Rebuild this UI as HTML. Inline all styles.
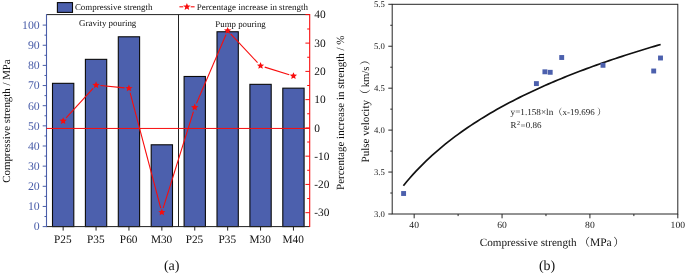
<!DOCTYPE html>
<html lang="en"><head><meta charset="utf-8"><title>Figure</title><style>html,body{margin:0;padding:0;background:#fff}body{width:685px;height:275px;overflow:hidden}</style></head><body>
<svg width="685" height="275" viewBox="0 0 685 275" style="display:block;font-family:'Liberation Serif', 'Noto Serif CJK SC', serif;text-rendering:geometricPrecision">
<rect width="685" height="275" fill="#fff"/>
<rect x="52.50" y="83.33" width="21.3" height="143.27" fill="#4c60ad" stroke="#0a0a0a" stroke-width="1.1"/>
<rect x="85.40" y="59.35" width="21.3" height="167.25" fill="#4c60ad" stroke="#0a0a0a" stroke-width="1.1"/>
<rect x="118.30" y="36.79" width="21.3" height="189.81" fill="#4c60ad" stroke="#0a0a0a" stroke-width="1.1"/>
<rect x="151.20" y="144.79" width="21.3" height="81.81" fill="#4c60ad" stroke="#0a0a0a" stroke-width="1.1"/>
<rect x="184.10" y="76.48" width="21.3" height="150.12" fill="#4c60ad" stroke="#0a0a0a" stroke-width="1.1"/>
<rect x="217.00" y="31.75" width="21.3" height="194.85" fill="#4c60ad" stroke="#0a0a0a" stroke-width="1.1"/>
<rect x="249.90" y="84.34" width="21.3" height="142.26" fill="#4c60ad" stroke="#0a0a0a" stroke-width="1.1"/>
<rect x="282.80" y="88.17" width="21.3" height="138.43" fill="#4c60ad" stroke="#0a0a0a" stroke-width="1.1"/>
<line x1="46.5" y1="14.6" x2="309.7" y2="14.6" stroke="#222" stroke-width="1"/>
<line x1="46.5" y1="226.6" x2="309.7" y2="226.6" stroke="#222" stroke-width="1"/>
<line x1="178.5" y1="14.6" x2="178.5" y2="226.6" stroke="#222" stroke-width="1"/>
<line x1="46.5" y1="14.1" x2="46.5" y2="227.1" stroke="#4a5ea9" stroke-width="1.1"/>
<line x1="309.7" y1="14.1" x2="309.7" y2="227.1" stroke="#f80c0c" stroke-width="1.1"/>
<line x1="46.5" y1="128.45" x2="309.7" y2="128.45" stroke="#f80c0c" stroke-width="1"/>
<line x1="42.7" y1="226.60" x2="46.5" y2="226.60" stroke="#4a5ea9" stroke-width="1"/>
<text x="39.7" y="230.40" font-size="11.8" text-anchor="end" fill="#4a5ea9">0</text>
<line x1="44.5" y1="216.53" x2="46.5" y2="216.53" stroke="#4a5ea9" stroke-width="1"/>
<line x1="42.7" y1="206.45" x2="46.5" y2="206.45" stroke="#4a5ea9" stroke-width="1"/>
<text x="39.7" y="210.25" font-size="11.8" text-anchor="end" fill="#4a5ea9">10</text>
<line x1="44.5" y1="196.38" x2="46.5" y2="196.38" stroke="#4a5ea9" stroke-width="1"/>
<line x1="42.7" y1="186.30" x2="46.5" y2="186.30" stroke="#4a5ea9" stroke-width="1"/>
<text x="39.7" y="190.10" font-size="11.8" text-anchor="end" fill="#4a5ea9">20</text>
<line x1="44.5" y1="176.22" x2="46.5" y2="176.22" stroke="#4a5ea9" stroke-width="1"/>
<line x1="42.7" y1="166.15" x2="46.5" y2="166.15" stroke="#4a5ea9" stroke-width="1"/>
<text x="39.7" y="169.95" font-size="11.8" text-anchor="end" fill="#4a5ea9">30</text>
<line x1="44.5" y1="156.07" x2="46.5" y2="156.07" stroke="#4a5ea9" stroke-width="1"/>
<line x1="42.7" y1="146.00" x2="46.5" y2="146.00" stroke="#4a5ea9" stroke-width="1"/>
<text x="39.7" y="149.80" font-size="11.8" text-anchor="end" fill="#4a5ea9">40</text>
<line x1="44.5" y1="135.93" x2="46.5" y2="135.93" stroke="#4a5ea9" stroke-width="1"/>
<line x1="42.7" y1="125.85" x2="46.5" y2="125.85" stroke="#4a5ea9" stroke-width="1"/>
<text x="39.7" y="129.65" font-size="11.8" text-anchor="end" fill="#4a5ea9">50</text>
<line x1="44.5" y1="115.77" x2="46.5" y2="115.77" stroke="#4a5ea9" stroke-width="1"/>
<line x1="42.7" y1="105.70" x2="46.5" y2="105.70" stroke="#4a5ea9" stroke-width="1"/>
<text x="39.7" y="109.50" font-size="11.8" text-anchor="end" fill="#4a5ea9">60</text>
<line x1="44.5" y1="95.62" x2="46.5" y2="95.62" stroke="#4a5ea9" stroke-width="1"/>
<line x1="42.7" y1="85.55" x2="46.5" y2="85.55" stroke="#4a5ea9" stroke-width="1"/>
<text x="39.7" y="89.35" font-size="11.8" text-anchor="end" fill="#4a5ea9">70</text>
<line x1="44.5" y1="75.47" x2="46.5" y2="75.47" stroke="#4a5ea9" stroke-width="1"/>
<line x1="42.7" y1="65.40" x2="46.5" y2="65.40" stroke="#4a5ea9" stroke-width="1"/>
<text x="39.7" y="69.20" font-size="11.8" text-anchor="end" fill="#4a5ea9">80</text>
<line x1="44.5" y1="55.32" x2="46.5" y2="55.32" stroke="#4a5ea9" stroke-width="1"/>
<line x1="42.7" y1="45.25" x2="46.5" y2="45.25" stroke="#4a5ea9" stroke-width="1"/>
<text x="39.7" y="49.05" font-size="11.8" text-anchor="end" fill="#4a5ea9">90</text>
<line x1="44.5" y1="35.17" x2="46.5" y2="35.17" stroke="#4a5ea9" stroke-width="1"/>
<line x1="42.7" y1="25.10" x2="46.5" y2="25.10" stroke="#4a5ea9" stroke-width="1"/>
<text x="39.7" y="28.90" font-size="11.8" text-anchor="end" fill="#4a5ea9">100</text>
<line x1="305.4" y1="212.68" x2="309.7" y2="212.68" stroke="#f80c0c" stroke-width="1"/>
<text x="314.3" y="216.38" font-size="11.4" fill="#111">-30</text>
<line x1="307.2" y1="198.55" x2="309.7" y2="198.55" stroke="#f80c0c" stroke-width="1"/>
<line x1="305.4" y1="184.42" x2="309.7" y2="184.42" stroke="#f80c0c" stroke-width="1"/>
<text x="314.3" y="188.12" font-size="11.4" fill="#111">-20</text>
<line x1="307.2" y1="170.29" x2="309.7" y2="170.29" stroke="#f80c0c" stroke-width="1"/>
<line x1="305.4" y1="156.16" x2="309.7" y2="156.16" stroke="#f80c0c" stroke-width="1"/>
<text x="314.3" y="159.86" font-size="11.4" fill="#111">-10</text>
<line x1="307.2" y1="142.03" x2="309.7" y2="142.03" stroke="#f80c0c" stroke-width="1"/>
<line x1="305.4" y1="127.90" x2="309.7" y2="127.90" stroke="#f80c0c" stroke-width="1"/>
<text x="314.3" y="131.60" font-size="11.4" fill="#111">0</text>
<line x1="307.2" y1="113.77" x2="309.7" y2="113.77" stroke="#f80c0c" stroke-width="1"/>
<line x1="305.4" y1="99.64" x2="309.7" y2="99.64" stroke="#f80c0c" stroke-width="1"/>
<text x="314.3" y="103.34" font-size="11.4" fill="#111">10</text>
<line x1="307.2" y1="85.51" x2="309.7" y2="85.51" stroke="#f80c0c" stroke-width="1"/>
<line x1="305.4" y1="71.38" x2="309.7" y2="71.38" stroke="#f80c0c" stroke-width="1"/>
<text x="314.3" y="75.08" font-size="11.4" fill="#111">20</text>
<line x1="307.2" y1="57.25" x2="309.7" y2="57.25" stroke="#f80c0c" stroke-width="1"/>
<line x1="305.4" y1="43.12" x2="309.7" y2="43.12" stroke="#f80c0c" stroke-width="1"/>
<text x="314.3" y="46.82" font-size="11.4" fill="#111">30</text>
<line x1="307.2" y1="28.99" x2="309.7" y2="28.99" stroke="#f80c0c" stroke-width="1"/>
<line x1="305.4" y1="14.60" x2="309.7" y2="14.60" stroke="#f80c0c" stroke-width="1"/>
<text x="314.3" y="18.30" font-size="11.4" fill="#111">40</text>
<line x1="63.15" y1="226.6" x2="63.15" y2="230.6" stroke="#222" stroke-width="1"/>
<text x="62.85" y="242.9" font-size="11.3" text-anchor="middle" fill="#111">P25</text>
<line x1="96.05" y1="226.6" x2="96.05" y2="230.6" stroke="#222" stroke-width="1"/>
<text x="95.75" y="242.9" font-size="11.3" text-anchor="middle" fill="#111">P35</text>
<line x1="128.95" y1="226.6" x2="128.95" y2="230.6" stroke="#222" stroke-width="1"/>
<text x="128.65" y="242.9" font-size="11.3" text-anchor="middle" fill="#111">P60</text>
<line x1="161.85" y1="226.6" x2="161.85" y2="230.6" stroke="#222" stroke-width="1"/>
<text x="161.55" y="242.9" font-size="11.3" text-anchor="middle" fill="#111">M30</text>
<line x1="194.75" y1="226.6" x2="194.75" y2="230.6" stroke="#222" stroke-width="1"/>
<text x="194.45" y="242.9" font-size="11.3" text-anchor="middle" fill="#111">P25</text>
<line x1="227.65" y1="226.6" x2="227.65" y2="230.6" stroke="#222" stroke-width="1"/>
<text x="227.35" y="242.9" font-size="11.3" text-anchor="middle" fill="#111">P35</text>
<line x1="260.55" y1="226.6" x2="260.55" y2="230.6" stroke="#222" stroke-width="1"/>
<text x="260.25" y="242.9" font-size="11.3" text-anchor="middle" fill="#111">M30</text>
<line x1="293.45" y1="226.6" x2="293.45" y2="230.6" stroke="#222" stroke-width="1"/>
<text x="293.15" y="242.9" font-size="11.3" text-anchor="middle" fill="#111">M40</text>
<line x1="66.12" y1="117.76" x2="93.08" y2="88.34" stroke="#f80c0c" stroke-width="1.1"/>
<line x1="100.43" y1="85.53" x2="124.57" y2="87.87" stroke="#f80c0c" stroke-width="1.1"/>
<line x1="130.08" y1="92.55" x2="160.72" y2="208.05" stroke="#f80c0c" stroke-width="1.1"/>
<line x1="163.17" y1="208.10" x2="193.43" y2="111.60" stroke="#f80c0c" stroke-width="1.1"/>
<line x1="196.48" y1="103.36" x2="225.92" y2="34.74" stroke="#f80c0c" stroke-width="1.1"/>
<line x1="230.66" y1="33.91" x2="257.54" y2="62.59" stroke="#f80c0c" stroke-width="1.1"/>
<line x1="264.75" y1="67.10" x2="289.25" y2="74.70" stroke="#f80c0c" stroke-width="1.1"/>
<polygon points="63.15,117.20 64.16,119.62 66.76,119.83 64.78,121.53 65.38,124.07 63.15,122.71 60.92,124.07 61.52,121.53 59.54,119.83 62.14,119.62" fill="#f80c0c"/>
<polygon points="96.05,81.30 97.06,83.72 99.66,83.93 97.68,85.63 98.28,88.17 96.05,86.81 93.82,88.17 94.42,85.63 92.44,83.93 95.04,83.72" fill="#f80c0c"/>
<polygon points="128.95,84.50 129.96,86.92 132.56,87.13 130.58,88.83 131.18,91.37 128.95,90.01 126.72,91.37 127.32,88.83 125.34,87.13 127.94,86.92" fill="#f80c0c"/>
<polygon points="161.85,208.50 162.86,210.92 165.46,211.13 163.48,212.83 164.08,215.37 161.85,214.01 159.62,215.37 160.22,212.83 158.24,211.13 160.84,210.92" fill="#f80c0c"/>
<polygon points="194.75,103.60 195.76,106.02 198.36,106.23 196.38,107.93 196.98,110.47 194.75,109.11 192.52,110.47 193.12,107.93 191.14,106.23 193.74,106.02" fill="#f80c0c"/>
<polygon points="227.65,26.90 228.66,29.32 231.26,29.53 229.28,31.23 229.88,33.77 227.65,32.41 225.42,33.77 226.02,31.23 224.04,29.53 226.64,29.32" fill="#f80c0c"/>
<polygon points="260.55,62.00 261.56,64.42 264.16,64.63 262.18,66.33 262.78,68.87 260.55,67.51 258.32,68.87 258.92,66.33 256.94,64.63 259.54,64.42" fill="#f80c0c"/>
<polygon points="293.45,72.20 294.46,74.62 297.06,74.83 295.08,76.53 295.68,79.07 293.45,77.71 291.22,79.07 291.82,76.53 289.84,74.83 292.44,74.62" fill="#f80c0c"/>
<rect x="57.4" y="2.6" width="15.1" height="9.8" fill="#4c60ad" stroke="#0a0a0a" stroke-width="1.1"/>
<text x="74.9" y="10" font-size="8.93" fill="#111">Compressive strength</text>
<line x1="179.4" y1="6.8" x2="194.6" y2="6.8" stroke="#f80c0c" stroke-width="1.1"/>
<rect x="183.3" y="3" width="7.4" height="7" fill="#fff"/>
<polygon points="186.90,2.90 187.93,5.38 190.61,5.59 188.57,7.34 189.19,9.96 186.90,8.55 184.61,9.96 185.23,7.34 183.19,5.59 185.87,5.38" fill="#f80c0c"/>
<text x="196.7" y="10" font-size="8.97" fill="#111">Percentage increase in strength</text>
<text x="79.1" y="25.9" font-size="8.93" fill="#111">Gravity pouring</text>
<text x="215.3" y="26.7" font-size="8.87" fill="#111">Pump pouring</text>
<text transform="translate(9.8,182.7) rotate(-90)" font-size="10.87" fill="#111">Compressive strength / MPa</text>
<text transform="translate(344.3,190) rotate(-90)" font-size="11.03" fill="#111">Percentage increase in strength / %</text>
<text x="163.9" y="270.4" font-size="14.1" fill="#111">(a)</text>
<rect x="392.2" y="4.3" width="285.59999999999997" height="209.7" fill="none" stroke="#262626" stroke-width="1"/>
<line x1="388.3" y1="214.00" x2="392.2" y2="214.00" stroke="#262626" stroke-width="1"/>
<text x="384.8" y="217.00" font-size="8.7" text-anchor="end" fill="#222">3.0</text>
<line x1="390.3" y1="193.03" x2="392.2" y2="193.03" stroke="#262626" stroke-width="1"/>
<line x1="388.3" y1="172.06" x2="392.2" y2="172.06" stroke="#262626" stroke-width="1"/>
<text x="384.8" y="175.06" font-size="8.7" text-anchor="end" fill="#222">3.5</text>
<line x1="390.3" y1="151.09" x2="392.2" y2="151.09" stroke="#262626" stroke-width="1"/>
<line x1="388.3" y1="130.12" x2="392.2" y2="130.12" stroke="#262626" stroke-width="1"/>
<text x="384.8" y="133.12" font-size="8.7" text-anchor="end" fill="#222">4.0</text>
<line x1="390.3" y1="109.15" x2="392.2" y2="109.15" stroke="#262626" stroke-width="1"/>
<line x1="388.3" y1="88.18" x2="392.2" y2="88.18" stroke="#262626" stroke-width="1"/>
<text x="384.8" y="91.18" font-size="8.7" text-anchor="end" fill="#222">4.5</text>
<line x1="390.3" y1="67.21" x2="392.2" y2="67.21" stroke="#262626" stroke-width="1"/>
<line x1="388.3" y1="46.24" x2="392.2" y2="46.24" stroke="#262626" stroke-width="1"/>
<text x="384.8" y="49.24" font-size="8.7" text-anchor="end" fill="#222">5.0</text>
<line x1="390.3" y1="25.27" x2="392.2" y2="25.27" stroke="#262626" stroke-width="1"/>
<line x1="388.3" y1="4.30" x2="392.2" y2="4.30" stroke="#262626" stroke-width="1"/>
<text x="384.8" y="7.30" font-size="8.7" text-anchor="end" fill="#222">5.5</text>
<line x1="414.17" y1="214.0" x2="414.17" y2="218.3" stroke="#262626" stroke-width="1"/>
<text x="414.17" y="228.1" font-size="9.6" text-anchor="middle" fill="#222">40</text>
<line x1="458.11" y1="214.0" x2="458.11" y2="216.1" stroke="#262626" stroke-width="1"/>
<line x1="502.05" y1="214.0" x2="502.05" y2="218.3" stroke="#262626" stroke-width="1"/>
<text x="502.05" y="228.1" font-size="9.6" text-anchor="middle" fill="#222">60</text>
<line x1="545.98" y1="214.0" x2="545.98" y2="216.1" stroke="#262626" stroke-width="1"/>
<line x1="589.92" y1="214.0" x2="589.92" y2="218.3" stroke="#262626" stroke-width="1"/>
<text x="589.92" y="228.1" font-size="9.6" text-anchor="middle" fill="#222">80</text>
<line x1="633.86" y1="214.0" x2="633.86" y2="216.1" stroke="#262626" stroke-width="1"/>
<line x1="677.80" y1="214.0" x2="677.80" y2="218.3" stroke="#262626" stroke-width="1"/>
<text x="677.80" y="228.1" font-size="9.6" text-anchor="middle" fill="#222">100</text>
<polyline fill="none" stroke="#111" stroke-width="1.7" points="403.40,185.68 406.62,181.78 409.84,178.03 413.05,174.41 416.27,170.93 419.48,167.57 422.70,164.32 425.91,161.18 429.13,158.13 432.35,155.18 435.56,152.31 438.78,149.53 441.99,146.82 445.21,144.19 448.42,141.63 451.64,139.13 454.86,136.69 458.07,134.32 461.29,132.00 464.50,129.73 467.72,127.52 470.93,125.36 474.15,123.24 477.37,121.17 480.58,119.14 483.80,117.16 487.01,115.21 490.23,113.30 493.45,111.43 496.66,109.59 499.88,107.79 503.09,106.02 506.31,104.28 509.52,102.58 512.74,100.90 515.96,99.25 519.17,97.63 522.39,96.03 525.60,94.46 528.82,92.92 532.03,91.40 535.25,89.90 538.47,88.43 541.68,86.97 544.90,85.54 548.11,84.13 551.33,82.74 554.54,81.37 557.76,80.02 560.98,78.69 564.19,77.38 567.41,76.08 570.62,74.80 573.84,73.54 577.05,72.29 580.27,71.06 583.49,69.84 586.70,68.64 589.92,67.45 593.13,66.28 596.35,65.13 599.56,63.98 602.78,62.85 606.00,61.73 609.21,60.63 612.43,59.53 615.64,58.45 618.86,57.39 622.08,56.33 625.29,55.28 628.51,54.25 631.72,53.22 634.94,52.21 638.15,51.21 641.37,50.22 644.59,49.24 647.80,48.26 651.02,47.30 654.23,46.35 657.45,45.40 660.66,44.47"/>
<rect x="401.15" y="191.05" width="4.9" height="4.9" fill="#4c60ad"/>
<rect x="533.95" y="81.15" width="4.9" height="4.9" fill="#4c60ad"/>
<rect x="542.45" y="69.35" width="4.9" height="4.9" fill="#4c60ad"/>
<rect x="547.75" y="69.85" width="4.9" height="4.9" fill="#4c60ad"/>
<rect x="651.25" y="68.55" width="4.9" height="4.9" fill="#4c60ad"/>
<rect x="559.25" y="55.05" width="4.9" height="4.9" fill="#4c60ad"/>
<rect x="600.55" y="62.85" width="4.9" height="4.9" fill="#4c60ad"/>
<rect x="658.05" y="55.55" width="4.9" height="4.9" fill="#4c60ad"/>
<text y="115.4" font-size="9.0" fill="#222"><tspan x="510.6" font-size="9.17">y=1.158×ln</tspan><tspan x="553.52">（</tspan><tspan x="562.6" font-size="8.96">x-19.696</tspan><tspan x="596.98">）</tspan></text>
<text y="128.2" font-size="9" fill="#222"><tspan x="510.6">R</tspan><tspan x="516.9" font-size="6" dy="-3.1">2</tspan><tspan x="520.6" dy="3.1">=0.86</tspan></text>
<text y="245.9" font-size="11.0" fill="#111"><tspan x="479.8" font-size="11.15">Compressive strength</tspan><tspan x="578.98">（</tspan><tspan x="590.0" font-size="11.5">MPa</tspan><tspan x="613.22">）</tspan></text>
<g transform="translate(368.6,0) rotate(-90)"><text y="0" font-size="11.0" fill="#111"><tspan x="-162.5" font-size="11.1">Pulse velocity</tspan><tspan x="-99.92">（</tspan><tspan x="-87.3" font-size="10.7">km/s</tspan><tspan x="-65.28">）</tspan></text></g>
<text x="538.9" y="269.8" font-size="14" fill="#111">(b)</text>
</svg>
</body></html>
